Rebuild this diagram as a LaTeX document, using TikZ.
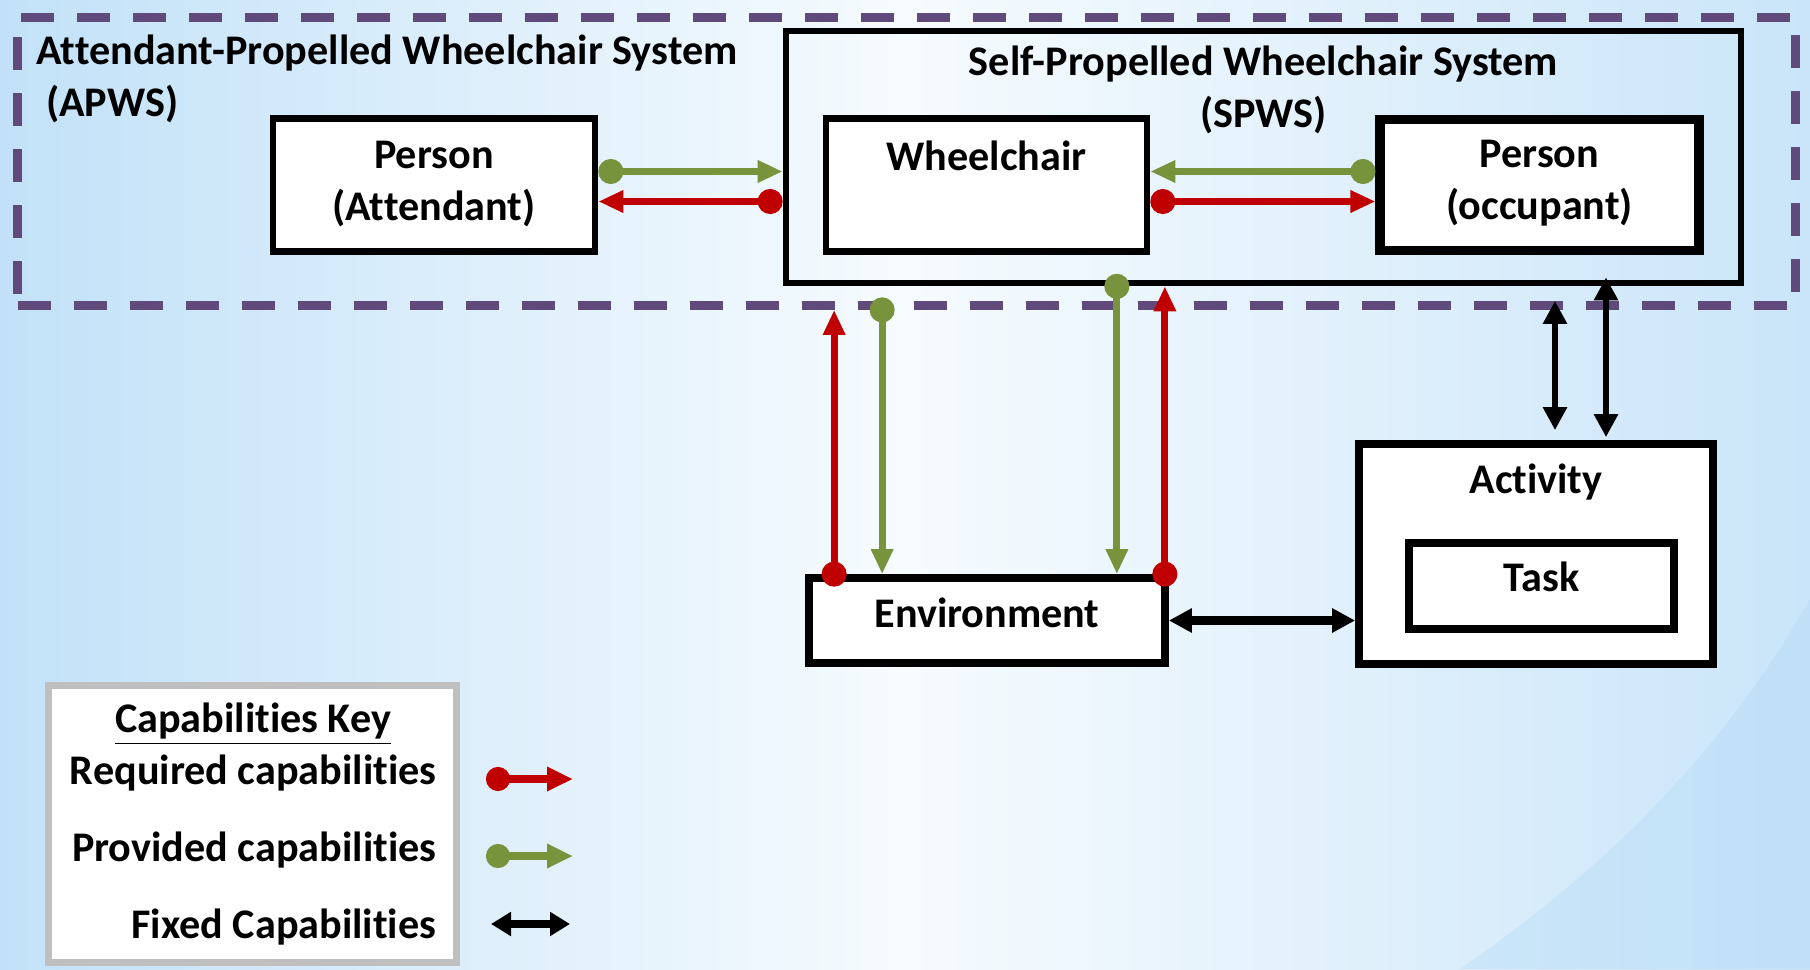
\documentclass[tikz,border=0pt]{standalone}
\usepackage{fontspec}
\setmainfont{Carlito}[Ligatures={TeX,NoCommon}]
\usetikzlibrary{positioning,arrows.meta}
\definecolor{BgBlue}{HTML}{C2E1F8}
\definecolor{BgPale}{HTML}{F6FBFE}
\definecolor{BgCorner}{HTML}{A9D5F6}
\definecolor{SysPurple}{HTML}{604A7B}
\definecolor{ReqRed}{HTML}{C00000}
\definecolor{ProvGreen}{HTML}{77933C}
\definecolor{KeyGray}{HTML}{BFBFBF}

\begin{document}
\begin{tikzpicture}[
    lbl/.style={font=\fontsize{12}{14.8}\selectfont\bfseries, inner sep=0pt, align=center},
    box/.style={draw=black, fill=white, line width=1.9pt, inner sep=0pt},
    heavy/.style={box, line width=2.2pt},
    sysbox/.style={draw=SysPurple, line width=2.5pt, dash pattern=on 3.3mm off 2.3mm},
    keybox/.style={draw=KeyGray, fill=white, line width=2.2pt},
    req/.style={draw=ReqRed, line width=2pt,
                {Circle[length=2.5mm]}-{Triangle[length=2.5mm,width=2.1mm]}},
    prov/.style={req, draw=ProvGreen},
    fixed/.style={draw=black, line width=1.8pt,
                  {Triangle[length=2.3mm,width=2.3mm]}-{Triangle[length=2.3mm,width=2.3mm]}},
    onedge/.style={shorten <=-1.25mm},
    keyreq/.style={draw=ReqRed, line width=2.3pt,
                   {Circle[length=2.4mm]}-{Triangle[length=2.6mm,width=2.3mm]}},
    keyprov/.style={keyreq, draw=ProvGreen},
    keyfixed/.style={draw=black, line width=2.3pt,
                     {Triangle[length=2mm,width=2.3mm]}-{Triangle[length=2mm,width=2.3mm]}},
    keytxt/.style={lbl, anchor=base east}
  ]
  \useasboundingbox (0,0) rectangle (18.10,9.69);
  \clip (0,0) rectangle (18.10,9.69);
  % background
  \shade[left color=BgBlue, right color=BgBlue!85!BgPale, middle color=BgPale]
    (0,0) rectangle (18.10,9.69);
  \fill[BgCorner, opacity=0.3] (18.10,0) -- (18.10,3.7)
    .. controls (17.3,2.3) and (16.2,1.1) .. (14.6,0) -- cycle;

  % systems
  \node[sysbox, minimum width=17.78cm, minimum height=2.88cm] (apws) at (9.065,8.075) {};
  \node[lbl, align=left, anchor=base west] (apwslbl) at (0.36,8.52)
    {Attendant-Propelled Wheelchair System\\~(APWS)};
  \node[draw=black, line width=1.9pt, minimum width=9.55cm, minimum height=2.52cm] (spws) at (12.635,8.12) {};
  \node[lbl, anchor=base] (spwslbl) at ([yshift=-10mm]spws.north)
    {Self-Propelled Wheelchair System\\(SPWS)};

  % boxes
  \node[box, minimum width=3.22cm, minimum height=1.33cm] (att) at (4.34,7.84) {};
  \node[lbl, anchor=base] (attlbl) at ([yshift=-10.5mm]att.north) {Person\\(Attendant)};
  \node[box, minimum width=3.21cm, minimum height=1.33cm] (wc) at (9.865,7.84) {};
  \node[lbl, anchor=base] (wclbl) at ([yshift=-5.5mm]wc.north) {Wheelchair};
  \node[box, line width=2.6pt, minimum width=3.19cm, minimum height=1.31cm] (occ) at (15.395,7.84) {};
  \node[lbl, anchor=base] (occlbl) at ([yshift=-10.5mm]occ.north) {Person\\(occupant)};
  \node[heavy, minimum width=3.56cm, minimum height=0.85cm] (env) at (9.87,3.485) {};
  \node[lbl, anchor=base] (envlbl) at ([yshift=-5.3mm]env.north) {Environment};
  \node[heavy, minimum width=3.54cm, minimum height=2.20cm] (act) at (15.36,4.15) {};
  \node[lbl, anchor=base] (actlbl) at ([yshift=-5.3mm]act.north) {Activity};
  \node[heavy, minimum width=2.65cm, minimum height=0.86cm] (task) at (15.415,3.83) {};
  \node[lbl, anchor=base] (tasklbl) at ([yshift=-5.2mm]task.north) {Task};

  % capabilities between the top boxes
  \draw[prov] ([yshift=1.35mm]att.east) -- ([yshift=1.35mm]att.east -| spws.west);
  \draw[req] ([yshift=-1.65mm]att.east -| spws.west) -- ([yshift=-1.65mm]att.east);
  \draw[prov] ([yshift=1.35mm]occ.west) -- ([yshift=1.35mm]occ.west -| wc.east);
  \draw[req] ([yshift=-1.65mm]wc.east) -- ([yshift=-1.65mm]wc.east -| occ.west);

  % capabilities with the environment
  \coordinate (r1) at ([xshift=2.9mm]env.north west);
  \coordinate (g1) at ([xshift=7.7mm]env.north west);
  \coordinate (g2) at ([xshift=-5.2mm]env.north east);
  \coordinate (r2) at ([xshift=-0.4mm]env.north east);
  \draw[req, onedge] (r1) -- (r1 |- apws.south);
  \draw[prov, onedge] (g1 |- apws.south) -- (g1);
  \draw[prov, onedge] (g2 |- spws.south) -- (g2);
  \draw[req, onedge] (r2) -- (r2 |- spws.south);

  % fixed capabilities
  \coordinate (f1) at ([xshift=1.9mm]act.north);
  \coordinate (f2) at ([xshift=7.0mm]act.north);
  \draw[fixed, shorten <=-0.9mm, shorten >=1mm] (f1 |- apws.south) -- (f1);
  \draw[fixed, shorten <=-0.9mm, shorten >=0.3mm] (f2 |- spws.south) -- (f2);
  \draw[fixed, line width=2.3pt] (env.east) -- (act.west |- env.east);

  % key
  \node[keybox, minimum width=4.08cm, minimum height=2.77cm] (key) at (2.525,1.45) {};
  \node[lbl, anchor=base] (keyttl) at (2.53,2.37) {\underline{Capabilities Key}};
  \node[keytxt] (reqtxt) at (4.37,1.85) {Required capabilities};
  \node[keytxt] (provtxt) at (4.37,1.08) {Provided capabilities};
  \node[keytxt] (fixtxt) at (4.37,0.31) {Fixed Capabilities};
  \coordinate (reqL) at (4.86,1.90);
  \coordinate (reqR) at (5.73,1.90);
  \coordinate (provL) at (4.86,1.13);
  \coordinate (provR) at (5.73,1.13);
  \coordinate (fixL) at (4.91,0.45);
  \coordinate (fixR) at (5.70,0.45);
  \draw[keyreq] (reqL) -- (reqR);
  \draw[keyprov] (provL) -- (provR);
  \draw[keyfixed] (fixL) -- (fixR);
\end{tikzpicture}
\end{document}
